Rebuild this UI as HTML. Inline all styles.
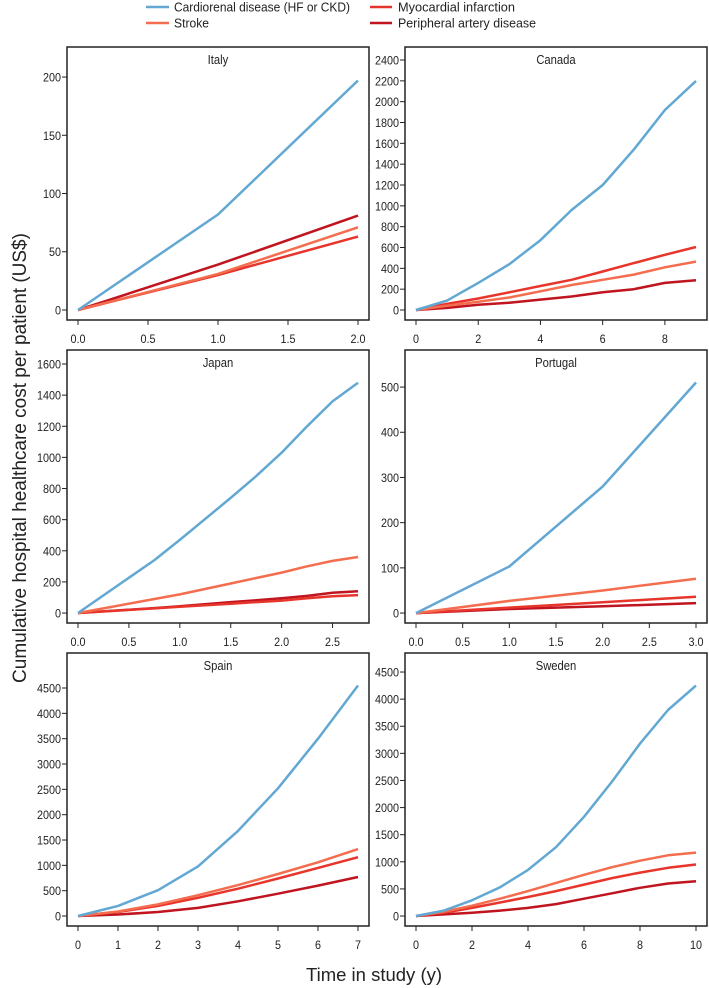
<!DOCTYPE html>
<html><head><meta charset="utf-8"><style>
html,body{margin:0;padding:0;background:#fff;}
svg{display:block;font-family:"Liberation Sans",sans-serif;}
</style></head><body>
<svg id="chart" width="709" height="988" viewBox="0 0 709 988">
<g>
  <line x1="146" y1="7" x2="169" y2="7" stroke="#62a8d3" stroke-width="2.5"/>
  <text x="174" y="11.5" font-size="12.5" textLength="176" lengthAdjust="spacingAndGlyphs" fill="#222">Cardiorenal disease (HF or CKD)</text>
  <line x1="146" y1="23" x2="169" y2="23" stroke="#f46d4f" stroke-width="2.5"/>
  <text x="174" y="27.5" font-size="12.5" textLength="35" lengthAdjust="spacingAndGlyphs" fill="#222">Stroke</text>
  <line x1="370" y1="7" x2="392" y2="7" stroke="#e8352b" stroke-width="2.5"/>
  <text x="398" y="11.5" font-size="12.5" textLength="117" lengthAdjust="spacingAndGlyphs" fill="#222">Myocardial infarction</text>
  <line x1="370" y1="23" x2="392" y2="23" stroke="#c0141f" stroke-width="2.5"/>
  <text x="398" y="27.5" font-size="12.5" textLength="138" lengthAdjust="spacingAndGlyphs" fill="#222">Peripheral artery disease</text>
</g>
<text x="26" y="458" font-size="19" text-anchor="middle" transform="rotate(-90 26 458)" fill="#222">Cumulative hospital healthcare cost per patient (US$)</text>
<text x="374" y="981" font-size="18.5" text-anchor="middle" fill="#222">Time in study (y)</text>
</svg>
<script>
// ---- data ----
const italyX=[0,1,2];
const italyCardio=[0,82,197];
const italyStroke=[0,31,71];
const italyMI=[0,30,63];
const italyPAD=[0,39,81];
const italyYTicks=[0,50,100,150,200];
const italyXTicks=["0.0","0.5","1.0","1.5","2.0"];

const canadaX=[0,1,2,3,4,5,6,7,8,9];
const canadaCardio=[0,90,260,440,670,960,1200,1540,1920,2200];
const canadaStroke=[0,40,80,120,180,240,290,340,410,465];
const canadaMI=[0,60,110,170,230,290,370,450,530,605];
const canadaPAD=[0,20,50,70,100,130,170,200,260,285];
const canadaYTicks=[0,200,400,600,800,1000,1200,1400,1600,1800,2000,2200,2400];
const canadaXTicks=["0","2","4","6","8"];

const japanX=[0,0.75,1,1.5,1.75,2,2.25,2.5,2.75];
const japanCardio=[0,340,470,740,880,1030,1200,1360,1480];
const japanStroke=[0,90,120,190,225,260,300,335,360];
const japanMI=[0,30,40,60,70,80,95,108,115];
const japanPAD=[0,32,43,70,82,95,110,130,140];
const japanYTicks=[0,200,400,600,800,1000,1200,1400,1600];
const japanXTicks=["0.0","0.5","1.0","1.5","2.0","2.5"];

const portugalX=[0,1,2,3];
const portugalCardio=[0,103,280,510];
const portugalStroke=[0,27,50,76];
const portugalMI=[0,12,24,36];
const portugalPAD=[0,9,15,22];
const portugalYTicks=[0,100,200,300,400,500];
const portugalXTicks=["0.0","0.5","1.0","1.5","2.0","2.5","3.0"];

const spainX=[0,1,2,3,4,5,6,7];
const spainCardio=[0,200,510,980,1680,2520,3500,4550];
const spainStroke=[0,90,230,410,610,830,1060,1320];
const spainMI=[0,80,200,360,540,740,950,1160];
const spainPAD=[0,30,80,160,290,440,600,770];
const spainYTicks=[0,500,1000,1500,2000,2500,3000,3500,4000,4500];
const spainXTicks=["0","1","2","3","4","5","6","7"];

const swedenX=[0,1,2,3,4,5,6,7,8,9,10];
const swedenCardio=[0,100,290,530,850,1270,1830,2480,3180,3800,4250];
const swedenStroke=[0,80,190,320,460,610,760,900,1020,1120,1170];
const swedenMI=[0,60,150,250,350,460,580,700,800,890,950];
const swedenPAD=[0,30,60,100,150,220,320,420,520,600,640];
const swedenYTicks=[0,500,1000,1500,2000,2500,3000,3500,4000,4500];
const swedenXTicks=["0","2","4","6","8","10"];

const NS="http://www.w3.org/2000/svg";
const svg=document.getElementById('chart');
const colors={cardio:"#62a8d3",stroke:"#f46d4f",mi:"#e8352b",pad:"#c0141f"};

const panels=[
 {name:"Italy",col:0,row:0,x:italyX,xmax:2,yT:italyYTicks,xT:italyXTicks,ylo:-8.6,yhi:225.8,s:{cardio:italyCardio,stroke:italyStroke,mi:italyMI,pad:italyPAD}},
 {name:"Canada",col:1,row:0,x:canadaX,xmax:9,yT:canadaYTicks,xT:canadaXTicks,ylo:-96,yhi:2525,s:{cardio:canadaCardio,stroke:canadaStroke,mi:canadaMI,pad:canadaPAD}},
 {name:"Japan",col:0,row:1,x:japanX,xmax:2.75,yT:japanYTicks,xT:japanXTicks,ylo:-64,yhi:1690,s:{cardio:japanCardio,stroke:japanStroke,mi:japanMI,pad:japanPAD}},
 {name:"Portugal",col:1,row:1,x:portugalX,xmax:3,yT:portugalYTicks,xT:portugalXTicks,ylo:-22,yhi:582,s:{cardio:portugalCardio,stroke:portugalStroke,mi:portugalMI,pad:portugalPAD}},
 {name:"Spain",col:0,row:2,x:spainX,xmax:7,yT:spainYTicks,xT:spainXTicks,ylo:-197,yhi:5191,s:{cardio:spainCardio,stroke:spainStroke,mi:spainMI,pad:spainPAD}},
 {name:"Sweden",col:1,row:2,x:swedenX,xmax:10,yT:swedenYTicks,xT:swedenXTicks,ylo:-184,yhi:4851,s:{cardio:swedenCardio,stroke:swedenStroke,mi:swedenMI,pad:swedenPAD}}
];
function mk(tag,attrs,parent){const e=document.createElementNS(NS,tag);for(const k in attrs)e.setAttribute(k,attrs[k]);(parent||svg).appendChild(e);return e;}
panels.forEach(p=>{
  const L=p.col?405:67, R=p.col?707:369, T=[47,350,653][p.row], B=T+273;
  const x0=L+11, x1=R-11;
  const sx=v=>x0+(v/p.xmax)*(x1-x0);
  const sy=v=>B-(v-p.ylo)/(p.yhi-p.ylo)*(B-T);
  const g=mk('g',{});
  
  
  ["pad","mi","stroke","cardio"].forEach(k=>{
    const pts=p.x.map((xv,i)=>sx(xv).toFixed(1)+","+sy(p.s[k][i]).toFixed(1)).join(" ");
    const pl=mk('polyline',{points:pts,fill:"none",stroke:colors[k],"stroke-width":2.5,"stroke-linejoin":"round"},g);
    
    
  });
  const box=mk('rect',{x:L,y:T,width:R-L,height:B-T,fill:"none",stroke:"#222","stroke-width":1.5},g);
  
  
  const title=mk('text',{x:(L+R)/2,y:T+17,"font-size":12.5,"text-anchor":"middle",fill:"#222",transform:`translate(${(L+R)/2},0) scale(0.9,1) translate(${-(L+R)/2},0)`},g);
  title.textContent=p.name;
  
  
  p.yT.forEach(v=>{
    const y=sy(v);
    mk('line',{x1:L-5,y1:y,x2:L,y2:y,stroke:"#222","stroke-width":1},g);
    const t=mk('text',{x:L-6,y:y+4.5,"font-size":12,"text-anchor":"end",fill:"#222",transform:`translate(${L-6},0) scale(0.9,1) translate(${-(L-6)},0)`},g);
    t.textContent=v;
    
    
  });
  p.xT.forEach(lbl=>{
    const x=sx(parseFloat(lbl));
    mk('line',{x1:x,y1:B,x2:x,y2:B+5,stroke:"#222","stroke-width":1},g);
    const t=mk('text',{x:x,y:B+23,"font-size":12,"text-anchor":"middle",fill:"#222",transform:`translate(${x},0) scale(0.9,1) translate(${-x},0)`},g);
    t.textContent=lbl;
    
    
  });
});
</script>
</body></html>
